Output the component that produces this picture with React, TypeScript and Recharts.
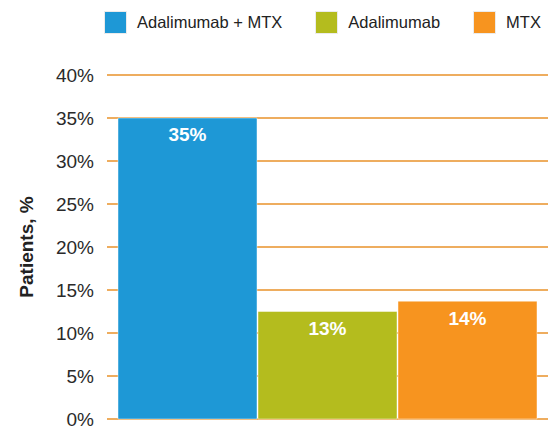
import { Bar, BarChart, CartesianGrid, LabelList, XAxis, YAxis } from "recharts"

const seriesNames = ["Adalimumab + MTX", "Adalimumab", "MTX"]
const seriesKeys = ["combo", "ada", "mtx"]
const seriesValues = [35, 12.5, 13.7]
const valueLabels = ["35%", "13%", "14%"]
const seriesColors = ["#1E98D6", "#B4BC1E", "#F7941F"]
const yTicks = [0, 5, 10, 15, 20, 25, 30, 35, 40]

const font = "'Liberation Sans', Arial, sans-serif"

const chartData = [
  seriesKeys.reduce(
    (row, key, i) => ({ ...row, [key]: seriesValues[i] }),
    { group: "Patients" } as Record<string, string | number>
  ),
]

function LegendRow() {
  return (
    <div
      style={{
        position: "absolute",
        left: 105,
        top: 12,
        display: "flex",
        alignItems: "center",
        whiteSpace: "nowrap",
        fontFamily: font,
        fontSize: 16.5,
        color: "#222",
      }}
    >
      {seriesNames.map((name, i) => (
        <div key={name} style={{ display: "flex", alignItems: "center", marginRight: 34 }}>
          <span
            style={{
              width: 21,
              height: 21,
              background: seriesColors[i],
              boxShadow: "0 0 0 1px rgba(0,0,0,0.08)",
              marginRight: 11,
            }}
          />
          <span>{name}</span>
        </div>
      ))}
    </div>
  )
}

export default function App() {
  return (
    <div style={{ position: "absolute", left: 0, top: 0, width: 548, height: 426, background: "#fff" }}>
      <BarChart
        width={548}
        height={426}
        data={chartData}
        margin={{ top: 75, right: 0, bottom: 7, left: 0 }}
        barGap={1}
        barSize={139}
      >
        <CartesianGrid horizontal vertical={false} stroke="#E8922A" strokeWidth={1.5} />
        <XAxis dataKey="group" hide />
        <YAxis
          width={107}
          domain={[0, 40]}
          ticks={yTicks}
          interval={0}
          axisLine={false}
          tickLine={false}
          tickSize={0}
          tickMargin={13}
          tickFormatter={(v: number) => `${v}%`}
          tick={{ fill: "#2a2a2a", fontSize: 19, fontFamily: font }}
          label={{
            value: "Patients, %",
            angle: -90,
            position: "insideLeft",
            offset: 26,
            style: { textAnchor: "middle", fontWeight: 700, fontSize: 19, fill: "#222", fontFamily: font },
          }}
        />
        {seriesKeys.map((key, i) => (
          <Bar
            key={key}
            dataKey={key}
            name={seriesNames[i]}
            fill={seriesColors[i]}
            stroke="rgba(255,255,255,0.45)"
            strokeWidth={1}
            isAnimationActive={false}
          >
            <LabelList
              dataKey={key}
              position="insideTop"
              offset={10}
              formatter={() => valueLabels[i]}
              style={{ fill: "#fff", fontWeight: 700, fontSize: 19, fontFamily: font }}
            />
          </Bar>
        ))}
      </BarChart>
      <LegendRow />
    </div>
  )
}
